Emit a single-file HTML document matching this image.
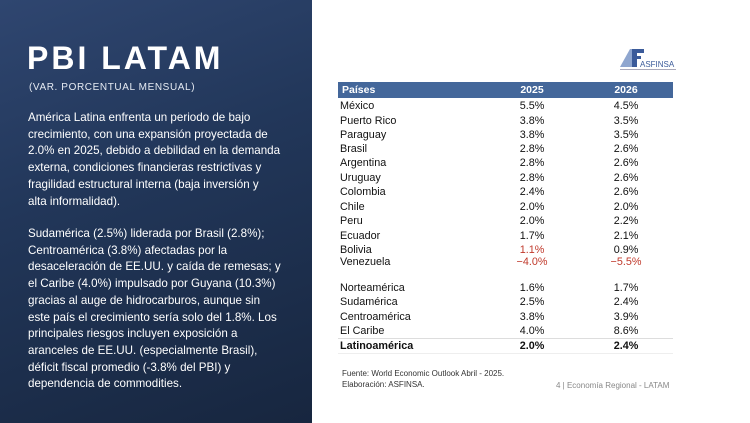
<!DOCTYPE html>
<html><head><meta charset="utf-8"><style>
*{margin:0;padding:0;box-sizing:border-box}
body{width:750px;height:423px;overflow:hidden;background:#fff;font-family:"Liberation Sans",sans-serif;position:relative}
#left{position:absolute;left:0;top:0;width:312px;height:423px;background:linear-gradient(160deg,#2f4670 0%,#22375a 40%,#17263f 100%);color:#fff}
#title{position:absolute;left:27px;top:40px;font-size:32px;font-weight:bold;letter-spacing:3px}
#sub{position:absolute;left:29px;top:82px;font-size:10px;letter-spacing:0.6px;color:#e6ebf3}
.p{position:absolute;left:28px;font-size:11.6px;line-height:16.7px;color:#fff;white-space:nowrap}
.row{position:absolute;left:338px;width:335px;height:14px;font-size:10.8px;color:#111}
.row span{position:absolute;top:0}
.c1{left:2px}.c2{left:172px;width:44px;text-align:center}.c3{left:266px;width:44px;text-align:center}
.red{color:#c0392b}
</style></head><body>
<div id="left">
<div id="title">PBI LATAM</div>
<div id="sub">(VAR. PORCENTUAL MENSUAL)</div>
<div class="p" style="top:110px">América Latina enfrenta un periodo de bajo<br>crecimiento, con una expansión proyectada de<br>2.0% en 2025, debido a debilidad en la demanda<br>externa, condiciones financieras restrictivas y<br>fragilidad estructural interna (baja inversión y<br>alta informalidad).</div>
<div class="p" style="top:226px">Sudamérica (2.5%) liderada por Brasil (2.8%);<br>Centroamérica (3.8%) afectadas por la<br>desaceleración de EE.UU. y caída de remesas; y<br>el Caribe (4.0%) impulsado por Guyana (10.3%)<br>gracias al auge de hidrocarburos, aunque sin<br>este país el crecimiento sería solo del 1.8%. Los<br>principales riesgos incluyen exposición a<br>aranceles de EE.UU. (especialmente Brasil),<br>déficit fiscal promedio (-3.8% del PBI) y<br>dependencia de commodities.</div>
</div>
<div style="position:absolute;left:618px;top:47px;width:60px;height:26px">
<svg width="60" height="26"><polygon points="2,20 12,2 18,2 14,20" fill="#8fa6cf"/><rect x="14" y="2" width="5" height="18" fill="#3b5b9a"/><rect x="14" y="2" width="12" height="4" fill="#3b5b9a"/><rect x="14" y="9" width="9" height="3" fill="#3b5b9a"/><text x="22" y="20" font-size="8" fill="#3b5b9a" font-family="Liberation Sans">ASFINSA</text><rect x="2" y="22" width="56" height="1" fill="#aab"/></svg>
</div>
<div style="position:absolute;left:338px;top:82px;width:335px;height:16px;background:#44679a;color:#fff;font-size:10.5px;font-weight:bold">
<span style="position:absolute;left:4px;top:2px">Países</span><span style="position:absolute;left:172px;width:44px;text-align:center;top:2px">2025</span><span style="position:absolute;left:266px;width:44px;text-align:center;top:2px">2026</span></div>
<div id="rows"></div>
<div style="position:absolute;left:338px;top:338px;width:335px;height:1px;background:#ddd"></div>
<div style="position:absolute;left:338px;top:353px;width:335px;height:1px;background:#eee"></div>
<div style="position:absolute;left:342px;top:369px;font-size:8px;line-height:10.5px;color:#333">Fuente: World Economic Outlook Abril - 2025.<br>Elaboración: ASFINSA.</div>
<div style="position:absolute;left:556px;top:381px;font-size:8px;color:#888">4 | Economía Regional - LATAM</div>
<script>
const countries=["México","Puerto Rico","Paraguay","Brasil","Argentina","Uruguay","Colombia","Chile","Peru","Ecuador","Bolivia","Venezuela","Norteamérica","Sudamérica","Centroamérica","El Caribe","Latinoamérica"];
const v2025=[5.5,3.8,3.8,2.8,2.8,2.8,2.4,2.0,2.0,1.7,1.1,-4.0,1.6,2.5,3.8,4.0,2.0];
const v2026=[4.5,3.5,3.5,2.6,2.6,2.6,2.6,2.0,2.2,2.1,0.9,-5.5,1.7,2.4,3.9,8.6,2.4];
const tops=[100,114.5,129,143,157,171.5,186,200.5,215,229.5,244,256,282,296,310.5,325,340];
const c=document.getElementById('rows');
function fmt(v){return (v<0?'−':'')+Math.abs(v).toFixed(1)+'%';}
countries.forEach((n,i)=>{
 const r=document.createElement('div');r.className='row';r.style.top=tops[i]+'px';
 
 
 const b=i===countries.length-1;
 if(b)r.style.fontWeight='bold';
 const red1=v2025[i]<0||n==="Bolivia", red2=v2026[i]<0;
 r.innerHTML='<span class="c1">'+n+'</span><span class="c2'+(red1?' red':'')+'">'+fmt(v2025[i])+'</span><span class="c3'+(red2?' red':'')+'">'+fmt(v2026[i])+'</span>';
 c.appendChild(r);
});
</script>
</body></html>
